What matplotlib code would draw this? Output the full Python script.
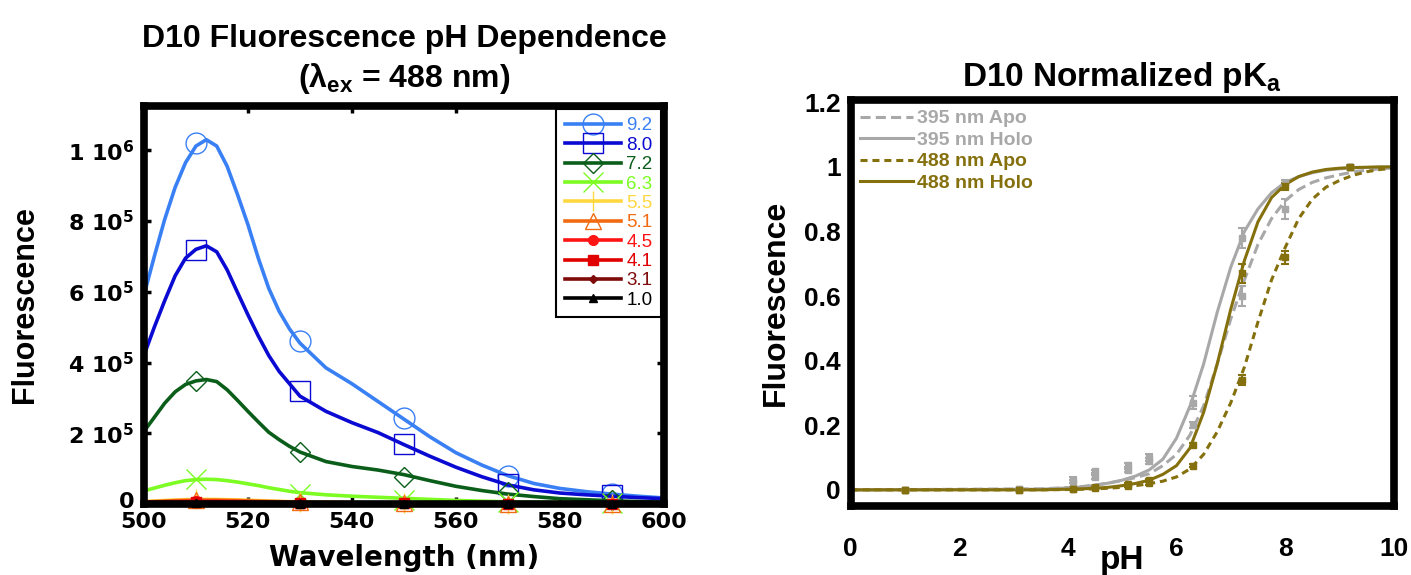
import matplotlib
matplotlib.use("Agg")
import matplotlib.pyplot as plt
from matplotlib.lines import Line2D
from matplotlib.transforms import ScaledTranslation

plt.rcParams['font.family'] = ['Liberation Sans', 'DejaVu Sans']
plt.rcParams['font.weight'] = 'bold'
plt.rcParams['mathtext.default'] = 'regular'

# ---- left panel: emission spectra at different pH ----
wavelength = [500, 502, 504, 506, 508, 510, 512, 514, 516, 518, 520, 522, 524, 526, 528, 530,
              535, 540, 545, 550, 555, 560, 565, 570, 575, 580, 585, 590, 595, 600]
f_92 = [5.9e5, 7.0e5, 8.05e5, 8.95e5, 9.65e5, 1.012e6, 1.03e6, 1.012e6, 9.55e5, 8.75e5, 7.9e5,
        6.95e5, 6.1e5, 5.45e5, 4.95e5, 4.55e5,
        3.85e5, 3.4e5, 2.9e5, 2.4e5, 1.9e5, 1.45e5, 1.1e5, 8.0e4, 5.8e4, 4.4e4, 3.5e4,
        2.8e4, 2.2e4, 1.7e4]
f_80 = [4.2e5, 5.0e5, 5.75e5, 6.45e5, 6.95e5, 7.2e5, 7.3e5, 7.13e5, 6.62e5, 5.98e5, 5.35e5,
        4.75e5, 4.2e5, 3.75e5, 3.4e5, 3.05e5,
        2.62e5, 2.3e5, 2.02e5, 1.68e5, 1.35e5, 1.04e5, 7.7e4, 5.4e4, 4.0e4, 3.1e4, 2.6e4,
        2.2e4, 1.8e4, 1.5e4]
f_72 = [2.05e5, 2.45e5, 2.85e5, 3.17e5, 3.38e5, 3.48e5, 3.52e5, 3.46e5, 3.23e5, 2.93e5, 2.62e5,
        2.32e5, 2.03e5, 1.82e5, 1.63e5, 1.47e5,
        1.2e5, 1.06e5, 9.6e4, 8.3e4, 6.6e4, 5.0e4, 3.8e4, 2.8e4, 2.1e4, 1.5e4, 1.2e4,
        9e3, 7e3, 5e3]
f_63 = [3.7e4, 4.5e4, 5.3e4, 6.0e4, 6.6e4, 6.9e4, 7.0e4, 6.9e4, 6.6e4, 6.2e4, 5.7e4,
        5.2e4, 4.6e4, 4.1e4, 3.6e4, 3.2e4,
        2.6e4, 2.2e4, 1.9e4, 1.6e4, 1.3e4, 1.0e4, 8e3, 6e3, 5e3, 4e3, 3e3, 2.5e3, 2e3, 1.5e3]
f_55 = [6900, 8300, 9900, 11200, 12200, 12900, 13000, 12900, 12200, 11600, 10500, 9600,
        8600, 7700, 6600, 6000,
        4800, 4000, 3500, 3000, 2500, 1800, 1400, 1200, 900, 800, 500, 500, 400, 300]
f_51 = [5800, 7000, 8400, 9500, 10300, 10900, 11000, 10900, 10300, 9800, 8900, 8100,
        7300, 6500, 5600, 5100,
        4100, 3400, 3000, 2500, 2100, 1500, 1200, 1000, 800, 700, 400, 400, 300, 200]
f_45 = [4200, 5100, 6100, 6900, 7500, 7900, 8000, 7900, 7500, 7100, 6500, 5900,
        5300, 4700, 4100, 3700,
        3000, 2500, 2200, 1800, 1500, 1100, 900, 700, 600, 500, 300, 300, 200, 200]
f_41 = [3200, 3800, 4600, 5200, 5600, 5900, 6000, 5900, 5600, 5300, 4900, 4400,
        4000, 3500, 3100, 2800,
        2200, 1900, 1600, 1400, 1100, 800, 700, 500, 400, 400, 200, 200, 200, 100]
f_31 = [1600, 1900, 2300, 2600, 2800, 3000, 3000, 3000, 2800, 2700, 2400, 2200,
        2000, 1800, 1500, 1400,
        1100, 900, 800, 700, 600, 400, 300, 300, 200, 200, 100, 100, 100, 100]
f_10 = [800, 960, 1140, 1290, 1410, 1490, 1500, 1490, 1410, 1340, 1220, 1110,
        990, 890, 770, 690,
        550, 450, 400, 350, 300, 200, 150, 150, 100, 100, 50, 50, 50, 50]

# marker points every 20 nm
marker_wl = [510, 530, 550, 570, 590]
m_92 = [1.02e6, 4.6e5, 2.44e5, 8.0e4, 2.8e4]
m_80 = [7.18e5, 3.19e5, 1.69e5, 5.6e4, 2.4e4]
m_72 = [3.49e5, 1.46e5, 7.7e4, 3.3e4, 1.0e4]
m_63 = [7.0e4, 2.8e4, 1.2e4, 5e3, 2e3]
m_55 = [1.3e4, 6e3, 3e3, 1.2e3, 5e2]
m_51 = [1.1e4, 5e3, 2.5e3, 1e3, 4e2]
m_45 = [8e3, 3.7e3, 1.8e3, 7e2, 3e2]
m_41 = [6e3, 2.8e3, 1.4e3, 5e2, 2e2]
m_31 = [3e3, 1.4e3, 7e2, 3e2, 1e2]
m_10 = [1.5e3, 7e2, 3.5e2, 1.5e2, 5e1]

ph_labels = ['9.2', '8.0', '7.2', '6.3', '5.5', '5.1', '4.5', '4.1', '3.1', '1.0']
left_yticks = [0, 2e5, 4e5, 6e5, 8e5, 1e6]
left_yticklabels = ['0', '2 10$^5$', '4 10$^5$', '6 10$^5$', '8 10$^5$', '1 10$^6$']

# ---- right panel: normalized titration ----
ph_fit = [0, 3.5, 4.0, 4.25, 4.5, 4.75, 5.0, 5.25, 5.5, 5.75, 6.0, 6.25, 6.5, 6.75, 7.0,
          7.25, 7.5, 7.75, 8.0, 8.25, 8.5, 8.75, 9.0, 9.25, 9.5, 9.75, 10.0]
apo395_fit = [0, 0.003, 0.007, 0.01, 0.015, 0.021, 0.029, 0.038, 0.05, 0.075, 0.11, 0.17,
              0.26, 0.39, 0.53, 0.65, 0.76, 0.84, 0.895, 0.93, 0.952, 0.966, 0.976, 0.984,
              0.99, 0.994, 0.997]
holo395_fit = [0, 0.002, 0.006, 0.009, 0.014, 0.021, 0.03, 0.043, 0.062, 0.095, 0.16, 0.26,
               0.39, 0.55, 0.69, 0.80, 0.87, 0.92, 0.952, 0.97, 0.982, 0.99, 0.994, 0.997,
               0.998, 0.999, 1.0]
apo488_fit = [0, 0.0, 0.001, 0.002, 0.003, 0.005, 0.008, 0.013, 0.019, 0.027, 0.04, 0.065,
              0.11, 0.18, 0.27, 0.38, 0.52, 0.65, 0.75, 0.84, 0.9, 0.937, 0.958, 0.974,
              0.985, 0.992, 0.996]
holo488_fit = [0, 0.0, 0.002, 0.003, 0.005, 0.008, 0.013, 0.02, 0.03, 0.048, 0.075, 0.13,
               0.24, 0.39, 0.56, 0.71, 0.83, 0.905, 0.945, 0.97, 0.984, 0.992, 0.996, 0.998,
               0.999, 1.0, 1.0]

ph_pts = [1.0, 3.1, 4.1, 4.5, 5.1, 5.5, 6.3, 7.2, 8.0, 9.2]
apo395_pts = [0.0, 0.003, 0.03, 0.04, 0.06, 0.09, 0.20, 0.60, 0.87, 1.0]
apo395_err = [0, 0, 0.01, 0.005, 0.005, 0.01, 0.01, 0.03, 0.03, 0.005]
holo395_pts = [0.0, 0.003, 0.02, 0.057, 0.077, 0.10, 0.27, 0.78, 0.95, 1.0]
holo395_err = [0, 0, 0.01, 0.005, 0.005, 0.01, 0.02, 0.03, 0.01, 0.003]
apo488_pts = [0.0, 0.0, 0.002, 0.005, 0.012, 0.02, 0.075, 0.34, 0.72, 1.0]
apo488_err = [0, 0, 0, 0, 0.003, 0.005, 0.005, 0.015, 0.02, 0.003]
holo488_pts = [0.0, 0.0, 0.003, 0.01, 0.017, 0.03, 0.14, 0.67, 0.94, 1.0]
holo488_err = [0, 0, 0, 0, 0.003, 0.005, 0.005, 0.03, 0.01, 0.003]

fig = plt.figure(figsize=(14.11, 5.75), dpi=100)

# ================= left =================
ax1 = fig.add_axes([0.102, 0.1235, 0.3685, 0.692])

curves = [f_92, f_80, f_72, f_63, f_55, f_51, f_45, f_41, f_31, f_10]
marks = [m_92, m_80, m_72, m_63, m_55, m_51, m_45, m_41, m_31, m_10]
colors = ['#3a80f5', '#0a0ad2', '#0b5e1a', '#7cfc22', '#ffd840',
          '#f26b12', '#ff1414', '#e00000', '#7f0a0a', '#000000']
# marker, size, filled
mstyle = [('o', 15, False), ('s', 14, False), ('D', 10, False), ('x', 14, False),
          ('+', 15, False), ('^', 12, False), ('o', 7, True), ('s', 7, True),
          ('D', 4.5, True), ('^', 6, True)]

handles = []
for ys, ms_, c, (mk, sz, filled) in zip(curves, marks, colors, mstyle):
    ax1.plot(wavelength, ys, color=c, lw=2.6, solid_joinstyle='round')
    ax1.plot(marker_wl, ms_, ls='none', marker=mk, ms=sz, mew=1.0,
             mec=c, mfc=c if filled else 'none', clip_on=False)
    handles.append(Line2D([], [], color=c, lw=2.6, marker=mk, ms=sz, mew=1.0,
                          mec=c, mfc=c if filled else 'none'))

ax1.set_xlim(500, 600)
ax1.set_ylim(0, 1.125e6)
ax1.set_xticks([500, 520, 540, 560, 580, 600])
ax1.set_yticks(left_yticks)
ax1.set_yticklabels(left_yticklabels)
for lab in ax1.get_xticklabels() + ax1.get_yticklabels():
    lab.set_family('DejaVu Sans')
    lab.set_fontweight('bold')
    lab.set_fontsize(16)
ax1.tick_params(direction='in', length=5, width=2.5, top=True, right=True)
ax1.tick_params(axis='x', pad=6)
ax1.tick_params(axis='y', pad=7)
# lift the "0" label a little, as in the original
zero_lab = ax1.get_yticklabels()[0]
zero_lab.set_transform(zero_lab.get_transform() + ScaledTranslation(0, 3 / 72, fig.dpi_scale_trans))
for sp in ax1.spines.values():
    sp.set_linewidth(5.5)

ax1.set_xlabel('Wavelength (nm)', fontsize=20, family='DejaVu Sans', fontweight='bold')
ax1.xaxis.set_label_coords(0.5, -0.1)
ax1.set_ylabel('Fluorescence', fontsize=22, fontweight='bold')
ax1.yaxis.set_label_coords(-0.2, 0.5)
ax1.set_title('D10 Fluorescence pH Dependence\n(λ$_{ex}$ = 488 nm)',
              fontsize=23, fontweight='bold', pad=14, linespacing=1.25)

leg1 = ax1.legend(handles, ph_labels, loc='upper right',
                  prop={'weight': 'normal', 'size': 13.5}, handlelength=3.0,
                  handletextpad=0.3, labelspacing=0.12, borderpad=0.45,
                  borderaxespad=0.15, fancybox=False, framealpha=1)
leg1.get_frame().set_edgecolor('black')
leg1.get_frame().set_linewidth(1.5)
for t, c in zip(leg1.get_texts(), colors):
    t.set_color(c)

# ================= right =================
ax2 = fig.add_axes([0.6028, 0.12, 0.385, 0.706])
grey = '#a8a8a8'
olive = '#85700e'

ax2.plot(ph_fit, apo395_fit, color=grey, lw=2.2, ls=(0, (3.3, 1.7)), label='395 nm Apo')
ax2.plot(ph_fit, holo395_fit, color=grey, lw=2.2, label='395 nm Holo')
ax2.plot(ph_fit, apo488_fit, color=olive, lw=2.2, ls=(0, (2.3, 1.6)), label='488 nm Apo')
ax2.plot(ph_fit, holo488_fit, color=olive, lw=2.2, label='488 nm Holo')

for pts, err, c in [(apo395_pts, apo395_err, grey), (holo395_pts, holo395_err, grey),
                    (apo488_pts, apo488_err, olive), (holo488_pts, holo488_err, olive)]:
    ax2.errorbar(ph_pts, pts, yerr=err, fmt='s', ms=4.5, color=c, ecolor=c,
                 elinewidth=1.5, capsize=3, capthick=1.5)

ax2.set_xlim(0, 10)
ax2.set_ylim(-0.05, 1.207)
ax2.set_xticks([0, 2, 4, 6, 8, 10])
ax2.set_yticks([0, 0.2, 0.4, 0.6, 0.8, 1.0, 1.2])
ax2.set_yticklabels(['0', '0.2', '0.4', '0.6', '0.8', '1', '1.2'])
ax2.tick_params(length=0, labelsize=19)
ax2.tick_params(axis='x', pad=22)
ax2.tick_params(axis='y', pad=7)
for sp in ax2.spines.values():
    sp.set_linewidth(5.5)

ax2.set_xlabel('pH', fontsize=24, fontweight='bold')
ax2.xaxis.set_label_coords(0.5, -0.095)
ax2.set_ylabel('Fluorescence', fontsize=23, fontweight='bold')
ax2.yaxis.set_label_coords(-0.11, 0.5)
ax2.set_title('D10 Normalized pK$_a$', fontsize=24, fontweight='bold', pad=10)

leg2 = ax2.legend(loc='upper left', frameon=False, prop={'weight': 'bold', 'size': 14},
                  handlelength=2.7, handletextpad=0.2, labelspacing=0.2,
                  borderaxespad=0.3, borderpad=0.2, labelcolor='linecolor')

fig.savefig('out.png', dpi=100)
